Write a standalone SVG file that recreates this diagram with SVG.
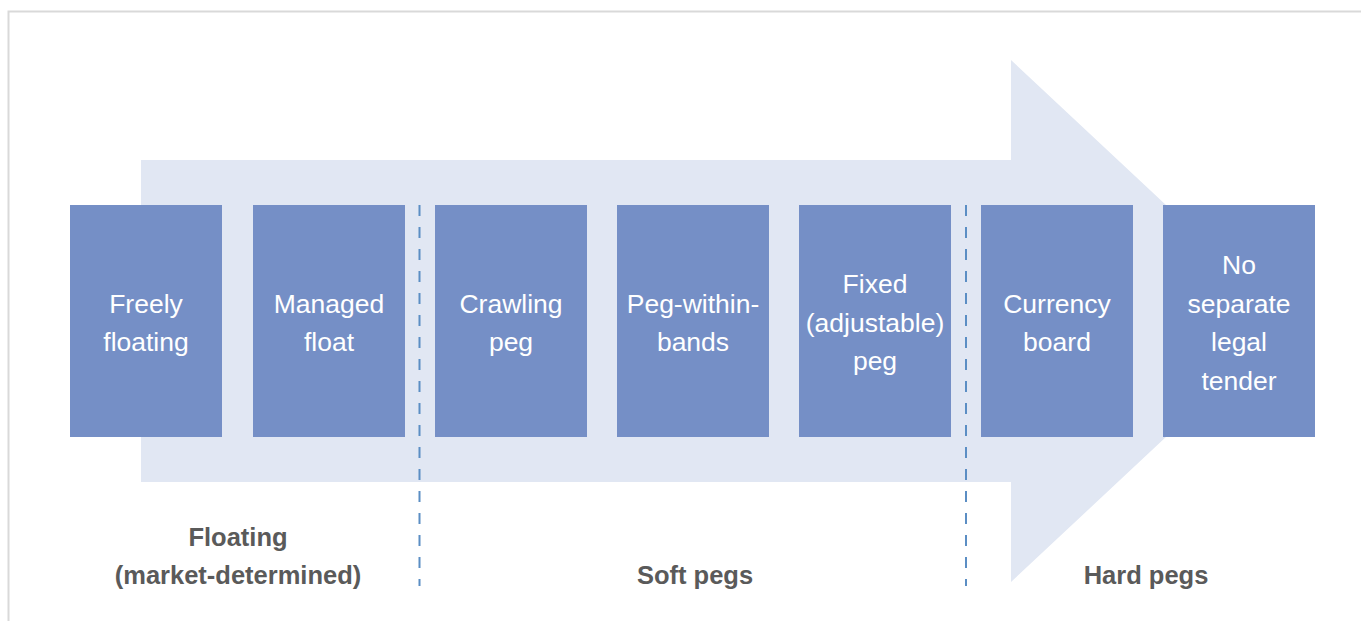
<svg xmlns="http://www.w3.org/2000/svg" width="1361" height="621" viewBox="0 0 1361 621">
<style>
.box{fill:#758fc6}
.bt{fill:#ffffff;font-family:"Liberation Sans",Arial,sans-serif;font-size:26.5px;text-anchor:middle}
.lb{fill:#5a5a5a;font-family:"Liberation Sans",Arial,sans-serif;font-size:25.5px;font-weight:bold;text-anchor:middle}
.dash{stroke:#5b8ec4;stroke-width:2;stroke-dasharray:11 11;fill:none}
</style>
<rect x="0" y="0" width="1361" height="621" fill="#ffffff"/>
<path d="M8.5 621 V11.5 H1361" fill="none" stroke="#d9d9d9" stroke-width="2"/>
<g id="arrow">
<polygon points="141,160 1011,160 1011,60 1290,321 1011,582 1011,482 141,482" fill="#e1e7f3"/>
</g>
<g id="connectors">
<line class="dash" x1="419.5" y1="205" x2="419.5" y2="586"/>
<line class="dash" x1="966" y1="205" x2="966" y2="586"/>
</g>
<g id="n1"><rect class="box" x="70" y="205" width="152" height="232"/><text class="bt" x="146" y="313">Freely</text><text class="bt" x="146" y="351">floating</text></g>
<g id="n2"><rect class="box" x="253" y="205" width="152" height="232"/><text class="bt" x="329" y="313">Managed</text><text class="bt" x="329" y="351">float</text></g>
<g id="n3"><rect class="box" x="435" y="205" width="152" height="232"/><text class="bt" x="511" y="313">Crawling</text><text class="bt" x="511" y="351">peg</text></g>
<g id="n4"><rect class="box" x="617" y="205" width="152" height="232"/><text class="bt" x="693" y="313">Peg-within-</text><text class="bt" x="693" y="351">bands</text></g>
<g id="n5"><rect class="box" x="799" y="205" width="152" height="232"/><text class="bt" x="875" y="293">Fixed</text><text class="bt" x="875" y="332">(adjustable)</text><text class="bt" x="875" y="370">peg</text></g>
<g id="n6"><rect class="box" x="981" y="205" width="152" height="232"/><text class="bt" x="1057" y="313">Currency</text><text class="bt" x="1057" y="351">board</text></g>
<g id="n7"><rect class="box" x="1163" y="205" width="152" height="232"/><text class="bt" x="1239" y="274">No</text><text class="bt" x="1239" y="313">separate</text><text class="bt" x="1239" y="351">legal</text><text class="bt" x="1239" y="390">tender</text></g>
<g id="labels">
<text class="lb" x="238" y="546">Floating</text>
<text class="lb" x="238" y="584">(market-determined)</text>
<text class="lb" x="695" y="584">Soft pegs</text>
<text class="lb" x="1146" y="584">Hard pegs</text>
</g>
</svg>
